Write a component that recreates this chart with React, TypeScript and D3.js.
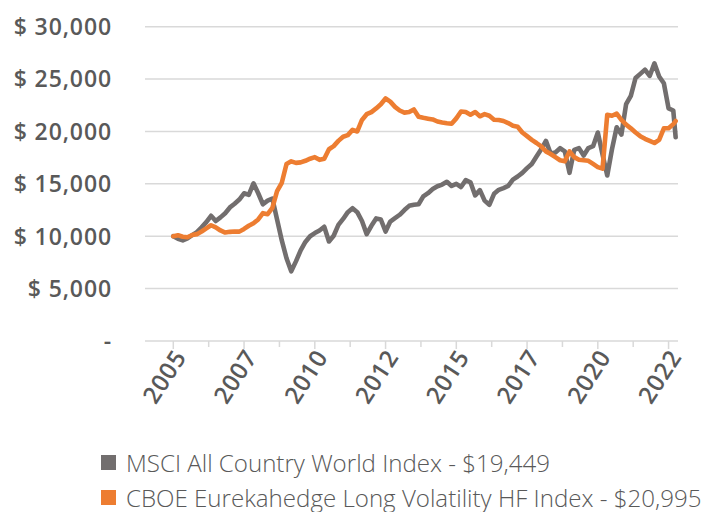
import React from 'react';
import * as d3 from 'd3';

// month offsets from Jan 2005 (sampled every two months, last point = latest month)
const monthIndex = [...d3.range(0, 213, 2), 213];

const msciValues = [
  10000, 9750, 9600, 9800, 10100, 10400, 10850, 11350, 11950, 11450,
  11800, 12200, 12750, 13100, 13500, 14100, 13950, 15050, 14100, 13050,
  13400, 13600, 11600, 9600, 7900, 6650, 7600, 8650, 9450, 10000,
  10300, 10550, 10900, 9500, 10050, 11080, 11650, 12300, 12680, 12300,
  11450, 10200, 11000, 11700, 11600, 10450, 11400, 11720, 12050, 12500,
  12900, 13000, 13050, 13800, 14110, 14500, 14770, 14930, 15200, 14800,
  15000, 14700, 15350, 15150, 13900, 14400, 13400, 13000, 14050, 14430,
  14600, 14800, 15400, 15700, 16050, 16500, 16900, 17600, 18300, 19100,
  17900, 18000, 18400, 18100, 16050, 18250, 18410, 17700, 18420, 18600,
  19900, 17800, 15800, 18300, 20400, 19700, 22600, 23400, 25100, 25500,
  25900, 25300, 26500, 25250, 24600, 22200, 22000, 19449,
];

const cboeValues = [
  10000, 10100, 9950, 9900, 10120, 10200, 10450, 10750, 11050, 10850,
  10550, 10350, 10420, 10450, 10440, 10700, 11000, 11240, 11600, 12200,
  12100, 12700, 14300, 15100, 16900, 17150, 17000, 17050, 17200, 17400,
  17550, 17290, 17400, 18300, 18600, 19100, 19500, 19650, 20150, 20000,
  21100, 21650, 21850, 22200, 22600, 23150, 22850, 22350, 22000, 21800,
  21850, 22100, 21400, 21300, 21220, 21150, 20950, 20850, 20780, 20730,
  21250, 21900, 21850, 21600, 21850, 21450, 21650, 21500, 21120, 21100,
  21000, 20800, 20550, 20450, 19900, 19550, 19200, 18900, 18570, 18100,
  17850, 17550, 17250, 17150, 18100, 17550, 17300, 17250, 17200, 16900,
  16600, 16450, 21600, 21500, 21700, 21100, 20650, 20300, 19900, 19550,
  19300, 19100, 18900, 19200, 20300, 20300, 20700, 20995,
];

const yTicks = [0, 5000, 10000, 15000, 20000, 25000, 30000];
const yTickLabels = ['-', '$ 5,000', '$ 10,000', '$ 15,000', '$ 20,000', '$ 25,000', '$ 30,000'];
const xTickMonths = d3.range(0, 211, 15);
const xTickLabels = ['2005', '2007', '2010', '2012', '2015', '2017', '2020', '2022'];

const seriesNames = ['MSCI All Country World Index - $19,449', 'CBOE Eurekahedge Long Volatility HF Index - $20,995'];
const seriesColors = ['#726e6e', '#ED7D31'];

const font = '"Open Sans", "Noto Sans", sans-serif';
const textColor = '#595959';
const gridColor = '#d9d9d9';

export default function App() {
  const width = 704, height = 512;
  const x = d3.scaleLinear().domain([-12, 214]).range([145, 678]);
  const y = d3.scaleLinear().domain([0, 30000]).range([341, 26.7]);

  const series = [msciValues, cboeValues];
  const line = d3.line<number>()
    .x((_, i) => x(monthIndex[i]))
    .y(d => y(d));

  return (
    <svg width={width} height={height} style={{ position: 'absolute', left: 0, top: 0, background: '#fff' }}>
      {/* gridlines + y labels */}
      {yTicks.map((t, i) => (
        <g key={t}>
          <line x1={145} x2={678} y1={y(t)} y2={y(t)} stroke={gridColor} strokeWidth={1.5} />
          <text x={112} y={y(t)} dy="0.36em" textAnchor="end" fontFamily={font} fontWeight={600}
            fontSize={23} letterSpacing={0.9} fill={textColor}>{yTickLabels[i]}</text>
        </g>
      ))}

      {/* x ticks */}
      {xTickMonths.map((m, i) => (
        <line key={m} x1={x(m)} x2={x(m)} y1={y(0)} y2={y(0) + (i % 2 === 0 ? 8 : 6)}
          stroke={gridColor} strokeWidth={1.5} />
      ))}
      {xTickLabels.map((lab, i) => {
        const tx = x(xTickMonths[i * 2]) + 14;
        const ty = y(0) + 16;
        return (
          <text key={lab} transform={`translate(${tx},${ty}) rotate(-57)`} textAnchor="end"
            fontFamily={font} fontWeight={600} fontSize={24} letterSpacing={0.7} fill={textColor}>{lab}</text>
        );
      })}

      {/* lines */}
      {series.map((s, i) => (
        <path key={i} d={line(s) || ''} fill="none" stroke={seriesColors[i]} strokeWidth={4.6}
          strokeLinejoin="round" strokeLinecap="round" />
      ))}

      {/* legend */}
      {seriesNames.map((name, i) => (
        <g key={name} transform={`translate(101,${455 + i * 35})`}>
          <rect width={15} height={15} fill={seriesColors[i]} />
          <text x={25} y={16.5} fontFamily={font} fontWeight={300} fontSize={24.1} fill={textColor}>{name}</text>
        </g>
      ))}
    </svg>
  );
}
